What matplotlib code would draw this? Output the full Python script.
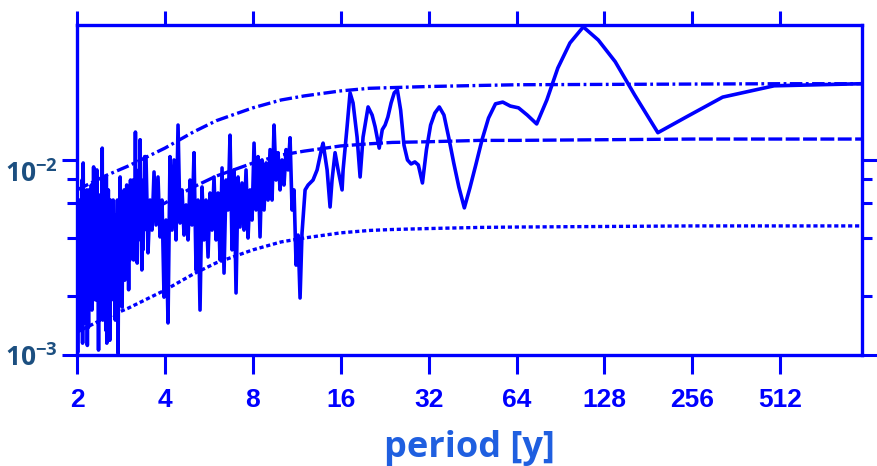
import matplotlib
matplotlib.use("Agg")
import matplotlib.pyplot as plt
from matplotlib.ticker import FixedLocator, NullFormatter

# Power spectrum (period in years)
period = [
    2.00, 2.01, 2.02, 2.03, 2.04, 2.05, 2.06, 2.07, 2.08, 2.09,
    2.10, 2.11, 2.12, 2.13, 2.14, 2.15, 2.16, 2.17, 2.18, 2.19,
    2.20, 2.21, 2.22, 2.23, 2.24, 2.25, 2.26, 2.27, 2.28, 2.29,
    2.30, 2.31, 2.32, 2.33, 2.34, 2.35, 2.36, 2.37, 2.38, 2.39,
    2.40, 2.41, 2.42, 2.43, 2.44, 2.45, 2.46, 2.47, 2.48, 2.49,
    2.50, 2.51, 2.52, 2.53, 2.54, 2.55, 2.56, 2.57, 2.58, 2.59,
    2.60, 2.615, 2.63, 2.645, 2.66, 2.675, 2.69, 2.705, 2.72, 2.735,
    2.75, 2.765, 2.78, 2.795, 2.81, 2.825, 2.84, 2.855, 2.87, 2.885,
    2.90, 2.915, 2.93, 2.945, 2.96, 2.975, 2.99, 3.005, 3.02, 3.035,
    3.05, 3.065, 3.08, 3.095, 3.11, 3.125, 3.14, 3.155, 3.17, 3.185,
    3.20, 3.215, 3.23, 3.245, 3.26, 3.275, 3.29, 3.305, 3.32, 3.335,
    3.35, 3.365, 3.38, 3.395, 3.41,
    3.446, 3.501, 3.557, 3.613, 3.671, 3.729, 3.788, 3.849, 3.910, 3.972,
    4.035, 4.099, 4.164, 4.231, 4.298, 4.366, 4.436, 4.506, 4.578, 4.651,
    4.725, 4.800, 4.876, 4.953, 5.032, 5.112, 5.194, 5.276, 5.360, 5.445,
    5.532, 5.620, 5.709, 5.800, 5.892, 5.986, 6.081, 6.178, 6.276, 6.375,
    6.477, 6.580, 6.684, 6.791, 6.899, 7.008, 7.120, 7.233, 7.348, 7.464,
    7.583, 7.704, 7.827, 7.951, 8.077, 8.206, 8.336, 8.468, 8.603, 8.740,
    8.879, 9.020, 9.164, 9.310, 9.457, 9.607, 9.760, 9.915, 10.07, 10.23,
    10.40, 10.56, 10.73, 10.90, 11.07, 11.25, 11.43, 11.61, 11.79,
    12.08, 12.37, 12.86, 13.28, 13.81, 13.92, 14.37, 14.71, 14.94, 15.30,
    15.67, 16.17, 16.30, 16.82, 17.22, 17.63, 18.20, 18.64, 19.08, 19.85,
    20.49, 20.98, 21.67,
    22.2, 22.7, 23.2, 23.8, 24.4, 25.0, 25.66, 26.35, 27.08, 27.86,
    28.7, 29.5, 30.47, 31.45, 32.5, 33.6, 34.8, 36.1, 37.5, 39.0,
    40.6, 42.4, 44.3, 46.4, 48.75, 51.3, 54.2, 57.4, 60.9, 65.0,
    69.6, 75.0, 81.25, 88.6, 97.5, 108.3, 121.9, 139.3, 162.5, 195.0,
    243.75, 325.0, 487.5, 975.0,
]
power = [
    0.00702, 0.00103, 0.00437, 0.00191, 0.00623, 0.00134, 0.00389, 0.00216, 0.00789, 0.00115,
    0.00965, 0.00242, 0.00522, 0.00146, 0.00437, 0.00191, 0.00702, 0.00112, 0.00437, 0.00139,
    0.00702, 0.00216, 0.00492, 0.00242, 0.00744, 0.00170, 0.00389, 0.00191, 0.00921, 0.00216,
    0.00554, 0.00273, 0.00623, 0.00191, 0.00889, 0.00242, 0.00437, 0.00106, 0.00661, 0.00151,
    0.00492, 0.00191, 0.00623, 0.00216, 0.0115, 0.00151, 0.00554, 0.00216, 0.00389, 0.00191,
    0.00623, 0.00134, 0.00818, 0.00115, 0.00554, 0.00216, 0.00702, 0.00151, 0.00437, 0.00119,
    0.00623, 0.00216, 0.00492, 0.00242, 0.00623, 0.00191, 0.00522, 0.00151, 0.00437, 0.00216,
    0.00623, 0.00102, 0.00437, 0.00191, 0.00818, 0.00242, 0.00492, 0.00176, 0.00623, 0.00307,
    0.00702, 0.00242, 0.00492, 0.00273, 0.00744, 0.00346, 0.00554, 0.00216, 0.00623, 0.00307,
    0.00789, 0.00346, 0.00492, 0.00389, 0.00789, 0.00307, 0.00623, 0.00437, 0.0139, 0.00437,
    0.00623, 0.00296, 0.00702, 0.00389, 0.00889, 0.00437, 0.0127, 0.00437, 0.00623, 0.00273,
    0.00702, 0.00346, 0.00789, 0.00437, 0.0104,
    0.0104, 0.00334, 0.00623, 0.00437, 0.00868, 0.00464, 0.00818, 0.00403, 0.00623, 0.00198,
    0.00492, 0.00146, 0.0104, 0.00437, 0.0100, 0.00389, 0.0151, 0.00475, 0.00702, 0.00412,
    0.00588, 0.00389, 0.00789, 0.00464, 0.0109, 0.00273, 0.00623, 0.00170, 0.00727, 0.00389,
    0.00623, 0.00318, 0.00677, 0.00437, 0.00818, 0.00389, 0.00677, 0.00307, 0.00910, 0.00263,
    0.00789, 0.00554, 0.0134, 0.00346, 0.00889, 0.00208, 0.00818, 0.00453, 0.00762, 0.00437,
    0.00889, 0.00398, 0.00702, 0.00492, 0.0122, 0.00554, 0.0104, 0.00403, 0.0100, 0.00554,
    0.00965, 0.00623, 0.0113, 0.00623, 0.0151, 0.00789, 0.0109, 0.00702, 0.0100, 0.00744,
    0.0113, 0.00889, 0.0130, 0.00554, 0.00702, 0.00289, 0.00412, 0.00196, 0.00422,
    0.00702, 0.00744, 0.00789, 0.00889, 0.0117, 0.0122, 0.00889, 0.00574, 0.00789, 0.0109,
    0.00889, 0.00702, 0.00889, 0.0148, 0.0221, 0.0196, 0.0131, 0.00818, 0.0131, 0.0187,
    0.0170, 0.0148, 0.0115,
    0.0143, 0.0151, 0.0166, 0.0196, 0.0221, 0.0229, 0.0180, 0.0119, 0.0100, 0.00954,
    0.00977, 0.00943, 0.00762, 0.0113, 0.0151, 0.0174, 0.0187, 0.0170, 0.0130, 0.00965,
    0.00727, 0.00568, 0.00719, 0.00943, 0.0127, 0.0164, 0.0194, 0.0198, 0.0189, 0.0185,
    0.0170, 0.0153, 0.0203, 0.0296, 0.0398, 0.0481, 0.0412, 0.0319, 0.0215, 0.0138,
    0.0166, 0.0210, 0.0240, 0.0246,
]

# significance levels of the background spectrum
level_period = [2, 2.5, 3, 4, 5, 6, 8, 10, 12, 16, 20, 24, 32, 48, 64, 128, 256, 512, 975]
level_low = [0.00131, 0.00155, 0.00174, 0.00215, 0.00260, 0.00297, 0.00346, 0.00380, 0.00398, 0.00423,
             0.00435, 0.00440, 0.00445, 0.00451, 0.00453, 0.00456, 0.00459, 0.00459, 0.00459]
level_mid = [0.00366, 0.00432, 0.00486, 0.00601, 0.00726, 0.00827, 0.00964, 0.0106, 0.0111, 0.0118,
             0.0121, 0.0123, 0.0124, 0.0126, 0.0126, 0.0127, 0.0128, 0.0128, 0.0128]
level_high = [0.00702, 0.00829, 0.00932, 0.0115, 0.0139, 0.0159, 0.0185, 0.0203, 0.0213, 0.0226,
              0.0233, 0.0235, 0.0238, 0.0241, 0.0243, 0.0244, 0.0245, 0.0246, 0.0246]

period_ticks = [2, 4, 8, 16, 32, 64, 128, 256, 512]
period_labels = ["2", "4", "8", "16", "32", "64", "128", "256", "512"]
power_ticks = [1e-3, 1e-2]
power_labels = [r"$\mathbf{10^{-3}}$", r"$\mathbf{10^{-2}}$"]
power_minor = [2e-3, 4e-3, 6e-3, 8e-3]

blue = "#0000ff"
plt.rcParams["lines.scale_dashes"] = False
plt.rcParams["mathtext.fontset"] = "custom"
plt.rcParams["mathtext.bf"] = "Open Sans:bold"
plt.rcParams["mathtext.rm"] = "Open Sans"

fig = plt.figure(figsize=(8.77, 4.66), dpi=100)
ax = fig.add_axes([77 / 877, 1 - 355 / 466, 785 / 877, 330 / 466])

ax.plot(level_period, level_high, color=blue, lw=2.4, linestyle=(0, (9, 2.5, 2, 2.5)))
ax.plot(level_period, level_mid, color=blue, lw=2.4, linestyle=(0, (10, 2.5)))
ax.plot(level_period, level_low, color=blue, lw=2.4, linestyle=(0, (3, 2)))
ax.plot(period, power, color=blue, lw=2.6)

ax.set_xscale("log")
ax.set_yscale("log")
ax.set_xlim(2, 975)
ax.set_ylim(1e-3, 0.0492)

ax.xaxis.set_major_locator(FixedLocator(period_ticks))
ax.xaxis.set_minor_locator(FixedLocator([]))
ax.set_xticklabels(period_labels, fontfamily="Liberation Sans", fontweight="bold",
                   fontsize=19, color=blue)
ax.yaxis.set_major_locator(FixedLocator(power_ticks))
ax.yaxis.set_minor_locator(FixedLocator(power_minor))
ax.yaxis.set_minor_formatter(NullFormatter())
ax.set_yticklabels(power_labels, fontsize=19, color="#1c4f80")

ax.tick_params(axis="x", which="major", direction="out", length=14, width=2.2,
               color=blue, top=True, pad=10)
ax.tick_params(axis="y", which="major", direction="out", length=11, width=2.2,
               color=blue, right=True, pad=3)
ax.tick_params(axis="y", which="minor", direction="out", length=7, width=2.2,
               color=blue, right=True)
for t in ax.xaxis.get_major_ticks():
    t.tick2line.set_markersize(10)
ax.yaxis.get_major_ticks()[1].label1.set_verticalalignment("top")

for sp in ax.spines.values():
    sp.set_color(blue)
    sp.set_linewidth(2.4)

ax.set_xlabel("period [y]", fontfamily="Open Sans", fontweight="bold", fontsize=26,
              color="#1f5fe0", labelpad=13)

fig.savefig("out.png", dpi=100)
